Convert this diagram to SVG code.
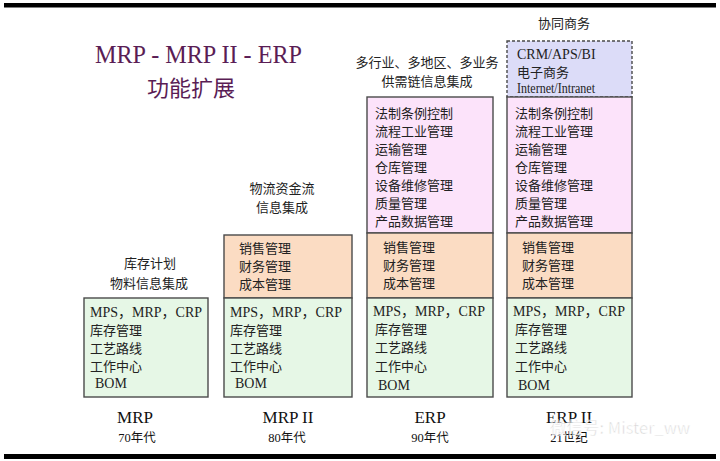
<svg xmlns="http://www.w3.org/2000/svg" width="720" height="461" viewBox="0 0 720 461">
<style>
.bg{fill:#ffffff}
.bar{fill:#000000}
.box{stroke:#4a4a4a;stroke-width:1.4}
.green{fill:#e6f7e6}
.orange{fill:#fbdcc3}
.pink{fill:#fce3fa}
.blue{fill:#dcdcf8;stroke-dasharray:3 2}
.t{font-family:"Liberation Serif","Noto Sans CJK SC",serif;font-size:14px;fill:#222222}
.cn{font-family:"Noto Sans CJK SC","Liberation Serif",serif;font-size:13px;fill:#222222}
.lbl{font-family:"Noto Sans CJK SC",sans-serif;font-size:13px;fill:#222222;text-anchor:middle}
.era{font-family:"Liberation Serif","Noto Sans CJK SC",serif;font-size:17px;fill:#111111;text-anchor:middle}
.yr{font-family:"Liberation Serif","Noto Sans CJK SC",serif;font-size:12.5px;fill:#111111;text-anchor:middle}
.title{font-family:"Liberation Serif","Noto Sans CJK SC",serif;fill:#5a1d55}
</style>
<rect class="bg" x="0" y="0" width="720" height="461"/>
<rect class="bar" x="4" y="3" width="712" height="4.5"/>
<rect class="bar" x="4" y="454" width="712" height="5"/>

<g id="title">
<text class="title" x="95" y="63" font-size="25" textLength="207" lengthAdjust="spacingAndGlyphs">MRP - MRP II - ERP</text>
<text class="title" x="191" y="96" font-size="22" text-anchor="middle" font-family="Noto Sans CJK SC, sans-serif">功能扩展</text>
</g>

<g id="connectors"></g>

<g id="col-mrp">
<text class="lbl" x="150" y="268">库存计划</text>
<text class="lbl" x="149" y="288">物料信息集成</text>
<rect class="box green" x="84" y="298" width="124" height="99"/>
<text class="t" x="90" y="317">MPS，MRP，CRP</text>
<text class="cn" x="90" y="335">库存管理</text>
<text class="cn" x="90" y="353">工艺路线</text>
<text class="cn" x="90" y="371">工作中心</text>
<text class="t" x="95" y="388">BOM</text>
<text class="era" x="135" y="423">MRP</text>
<text class="yr" x="137" y="442">70年代</text>
</g>

<g id="col-mrp2">
<text class="lbl" x="282" y="193">物流资金流</text>
<text class="lbl" x="282" y="212">信息集成</text>
<rect class="box orange" x="224" y="235" width="128" height="63"/>
<text class="cn" x="239" y="253">销售管理</text>
<text class="cn" x="239" y="271">财务管理</text>
<text class="cn" x="239" y="289">成本管理</text>
<rect class="box green" x="224" y="298" width="128" height="99"/>
<text class="t" x="230" y="317">MPS，MRP，CRP</text>
<text class="cn" x="230" y="335">库存管理</text>
<text class="cn" x="230" y="353">工艺路线</text>
<text class="cn" x="230" y="371">工作中心</text>
<text class="t" x="235" y="388">BOM</text>
<text class="era" x="288" y="423">MRP II</text>
<text class="yr" x="287" y="442">80年代</text>
</g>

<g id="col-erp">
<text class="lbl" x="427" y="67">多行业、多地区、多业务</text>
<text class="lbl" x="427" y="86">供需链信息集成</text>
<rect class="box pink" x="367" y="97" width="126" height="136"/>
<text class="cn" x="375" y="118">法制条例控制</text>
<text class="cn" x="375" y="136">流程工业管理</text>
<text class="cn" x="375" y="154">运输管理</text>
<text class="cn" x="375" y="172">仓库管理</text>
<text class="cn" x="375" y="190">设备维修管理</text>
<text class="cn" x="375" y="208">质量管理</text>
<text class="cn" x="375" y="226">产品数据管理</text>
<rect class="box orange" x="367" y="233" width="126" height="65"/>
<text class="cn" x="383" y="252">销售管理</text>
<text class="cn" x="383" y="270">财务管理</text>
<text class="cn" x="383" y="288">成本管理</text>
<rect class="box green" x="367" y="298" width="126" height="99"/>
<text class="t" x="373" y="316">MPS，MRP，CRP</text>
<text class="cn" x="375" y="334">库存管理</text>
<text class="cn" x="375" y="352">工艺路线</text>
<text class="cn" x="375" y="371">工作中心</text>
<text class="t" x="378" y="390">BOM</text>
<text class="era" x="430" y="423">ERP</text>
<text class="yr" x="430" y="442">90年代</text>
</g>

<g id="col-erp2">
<text class="lbl" x="564" y="28">协同商务</text>
<rect class="box blue" x="507" y="41" width="125" height="56"/>
<text class="t" x="517" y="59">CRM/APS/BI</text>
<text class="cn" x="517" y="77">电子商务</text>
<text class="t" x="517" y="93" font-size="11.5" textLength="78" lengthAdjust="spacingAndGlyphs">Internet/Intranet</text>
<rect class="box pink" x="507" y="97" width="125" height="136"/>
<text class="cn" x="515" y="118">法制条例控制</text>
<text class="cn" x="515" y="136">流程工业管理</text>
<text class="cn" x="515" y="154">运输管理</text>
<text class="cn" x="515" y="172">仓库管理</text>
<text class="cn" x="515" y="190">设备维修管理</text>
<text class="cn" x="515" y="208">质量管理</text>
<text class="cn" x="515" y="226">产品数据管理</text>
<rect class="box orange" x="507" y="233" width="125" height="65"/>
<text class="cn" x="522" y="252">销售管理</text>
<text class="cn" x="522" y="270">财务管理</text>
<text class="cn" x="522" y="288">成本管理</text>
<rect class="box green" x="507" y="298" width="125" height="99"/>
<text class="t" x="513" y="316">MPS，MRP，CRP</text>
<text class="cn" x="515" y="334">库存管理</text>
<text class="cn" x="515" y="352">工艺路线</text>
<text class="cn" x="515" y="371">工作中心</text>
<text class="t" x="518" y="390">BOM</text>
<text class="era" x="569" y="423">ERP II</text>
<text class="yr" x="569" y="442">21世纪</text>
</g>

<g id="watermark" opacity="0.75">
<text x="550" y="434" font-family="Noto Sans CJK SC, sans-serif" font-size="16.5" fill="#c8c8c8" stroke="#ffffff" stroke-width="0.6">微信号: Mister_ww</text>
</g>
</svg>
